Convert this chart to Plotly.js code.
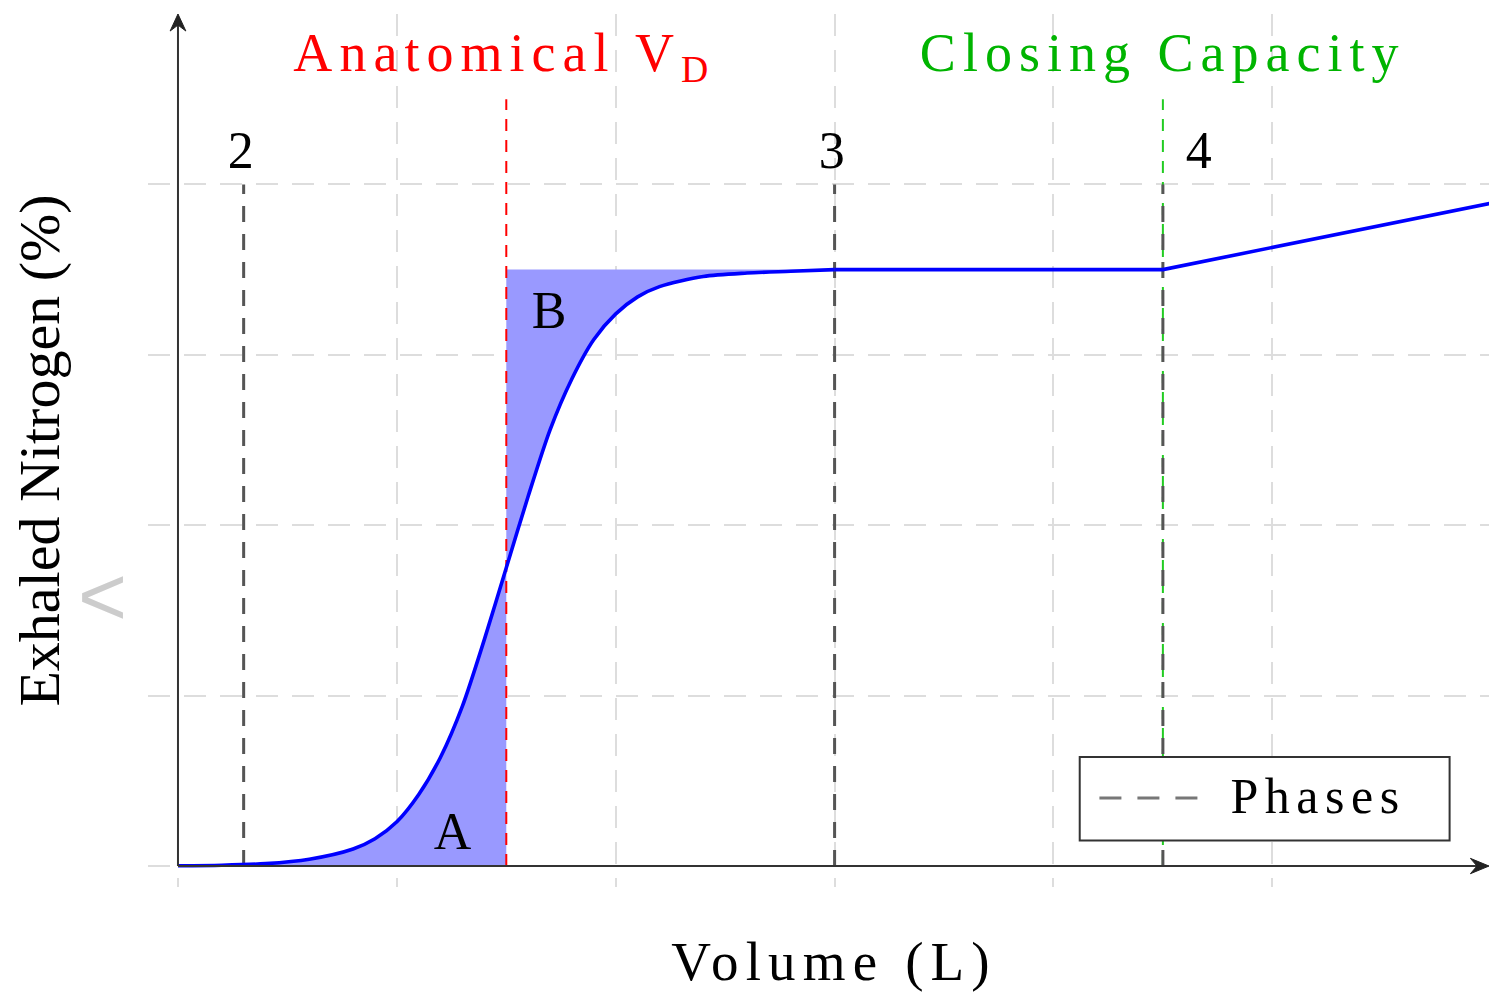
<!DOCTYPE html>
<html>
<head>
<meta charset="utf-8">
<script src="https://cdn.plot.ly/plotly-3.0.1.min.js"></script>
<style>
  html, body { margin: 0; padding: 0; background: #fff; }
  #chart { width: 1489px; height: 995px; }
  /* wide, airy serif lettering */
  #chart .annotation-text.spaced { letter-spacing: 0.13em; }
</style>
</head>
<body>
<div id="chart"></div>
<script>
// Single-breath nitrogen washout curve
const volume   = [0, 0.2, 0.4, 0.6, 0.8, 0.9, 1.0, 1.1, 1.2, 1.3, 1.4, 1.5, 1.6, 1.7, 1.8, 1.9, 2.0, 2.1, 2.2, 2.4, 2.6, 2.8, 3.0, 3.5, 4.0, 4.5, 6.0];
const nitrogen = [0.002, 0.005, 0.014, 0.04, 0.10, 0.16, 0.26, 0.42, 0.64, 0.94, 1.33, 1.75, 2.17, 2.56, 2.86, 3.09, 3.24, 3.34, 3.40, 3.46, 3.48, 3.49, 3.50, 3.50, 3.50, 3.50, 3.89];

const plateau = 3.5;          // alveolar plateau (phase 3 level)
const deadSpaceVolume = 1.5;  // anatomical dead space boundary
const closingVolume = 4.5;    // closing capacity boundary
const phaseX = [0.3, 3.0, 4.5];
const phaseLabels = ['2', '3', '4'];
const phaseTop = 4;
const markerTop = 4.5;

const serif = '"Liberation Serif", "Times New Roman", serif';
const xMax = 5.99, yMax = 5;

// the S-shaped washout part is smoothed; plateau and phase 4 stay straight
const sX = [], sY = [], pX = [], pY = [];
volume.forEach((v, i) => {
  if (v <= 3.0) { sX.push(v); sY.push(nitrogen[i]); }
  if (v >= 3.0) { pX.push(v); pY.push(nitrogen[i]); }
});

// area A: under the curve, left of the dead-space line
const aX = [], aY = [];
volume.forEach((v, i) => { if (v <= deadSpaceVolume) { aX.push(v); aY.push(nitrogen[i]); } });

// area B: between curve and plateau, right of the dead-space line
const bX = [], bY = [];
volume.forEach((v, i) => { if (v >= deadSpaceVolume && v <= 3.0) { bX.push(v); bY.push(nitrogen[i]); } });
bX.push(3.0, deadSpaceVolume, deadSpaceVolume);
bY.push(plateau, plateau, bY[0]);

// phase divider segments
const phX = [], phY = [];
phaseX.forEach(x => { phX.push(x, x, null); phY.push(0, phaseTop, null); });

const traces = [
  { x: aX, y: aY, type: 'scatter', mode: 'lines', fill: 'tozeroy',
    fillcolor: '#9999ff', line: { width: 0, shape: 'spline', smoothing: 0.8 }, hoverinfo: 'skip', showlegend: false },
  { x: bX, y: bY, type: 'scatter', mode: 'lines', fill: 'toself',
    fillcolor: '#9999ff', line: { width: 0 }, hoverinfo: 'skip', showlegend: false },
  { x: [deadSpaceVolume, deadSpaceVolume], y: [0, markerTop], type: 'scatter', mode: 'lines',
    line: { color: '#ff0000', width: 2, dash: '12px,9px' }, showlegend: false },
  { x: [closingVolume, closingVolume], y: [0, markerTop], type: 'scatter', mode: 'lines',
    line: { color: '#22cc22', width: 2, dash: '12px,9px' }, showlegend: false },
  { x: phX, y: phY, type: 'scatter', mode: 'lines', name: 'Phases',
    line: { color: '#555555', width: 3, dash: '16px,12px' }, showlegend: false },
  { x: sX, y: sY, type: 'scatter', mode: 'lines', name: 'N2 washout',
    line: { color: '#0000ff', width: 3.6, shape: 'spline', smoothing: 0.8 }, showlegend: false },
  { x: pX, y: pY, type: 'scatter', mode: 'lines', name: 'N2 plateau',
    line: { color: '#0000ff', width: 3.6 }, showlegend: false }
];

const annotations = [
  // region labels
  { x: 1.27, y: 0.2, text: 'A', showarrow: false, font: { family: serif, size: 52, color: '#000' } },
  { x: 1.71, y: 3.26, text: 'B', showarrow: false, font: { family: serif, size: 52, color: '#000' } },
  // boundary captions
  { x: 1.49, y: 4.75, text: 'Anatomical V<sub>D</sub>', showarrow: false,
    font: { family: serif, size: 54, color: '#ff0000' } },
  { x: 4.5, y: 4.77, text: 'Closing Capacity', showarrow: false,
    font: { family: serif, size: 54, color: '#00b400' } },
  // legend text
  { x: 4.89, y: 0.41, text: 'Phases', xanchor: 'left', showarrow: false,
    font: { family: serif, size: 50, color: '#000' } },
  // axis title along the volume axis
  { xref: 'paper', yref: 'paper', x: (834 - 148) / 1341, y: 0, yshift: -107, text: 'Volume (L)',
    showarrow: false, font: { family: serif, size: 55, color: '#000' } },
  // side chevron
  { xref: 'paper', yref: 'paper', x: -0.036, y: 0.33, xshift: -24, yshift: -46, text: '<', showarrow: false,
    font: { family: '"Liberation Sans", sans-serif', size: 84, color: '#cccccc' } }
];

phaseX.forEach((x, i) => {
  const last = i === phaseX.length - 1;
  annotations.push({ x: x, y: 4.2, text: phaseLabels[i], showarrow: false,
    xanchor: last ? 'left' : 'center', xshift: last ? 24 : 0,
    font: { family: serif, size: 52, color: '#000' } });
});

const shapes = [
  // axis lines with arrowheads
  { type: 'line', xref: 'x', yref: 'y', x0: 0, x1: xMax - 0.03, y0: 0, y1: 0, line: { color: '#333', width: 2 } },
  { type: 'line', xref: 'x', yref: 'y', x0: 0, x1: 0, y0: 0, y1: yMax - 0.05, line: { color: '#333', width: 2 } },
  { type: 'path', xref: 'x', yref: 'y',
    path: `M${xMax},0 L${xMax - 0.085},0.045 L${xMax - 0.055},0 L${xMax - 0.085},-0.045 Z`,
    fillcolor: '#222', line: { color: '#222', width: 1 } },
  { type: 'path', xref: 'x', yref: 'y',
    path: `M0,${yMax} L0.036,${yMax - 0.1} L0,${yMax - 0.065} L-0.036,${yMax - 0.1} Z`,
    fillcolor: '#222', line: { color: '#222', width: 1 } },
  // legend frame and dash sample
  { type: 'rect', xref: 'x', yref: 'y', x0: 4.12, x1: 5.81, y0: 0.15, y1: 0.64,
    fillcolor: '#ffffff', line: { color: '#333', width: 2 }, layer: 'above' },
  { type: 'line', xref: 'x', yref: 'y', x0: 4.21, x1: 4.69, y0: 0.40, y1: 0.40,
    line: { color: '#777', width: 3, dash: '22px,16px' }, layer: 'above' }
];

const layout = {
  width: 1489, height: 995,
  margin: { l: 148, r: 0, t: 14, b: 108 },
  paper_bgcolor: '#ffffff', plot_bgcolor: '#ffffff',
  showlegend: false,
  xaxis: {
    range: [-0.137, xMax], dtick: 1, tick0: 0,
    showgrid: true, gridcolor: '#dddddd', gridwidth: 2, griddash: '22px,14px',
    zeroline: false, showline: false, showticklabels: false, ticks: ''
  },
  yaxis: {
    range: [-0.123, yMax], dtick: 1, tick0: 0,
    showgrid: true, gridcolor: '#dddddd', gridwidth: 2, griddash: '22px,14px',
    zeroline: false, showline: false, showticklabels: false, ticks: '',
    title: { text: 'Exhaled Nitrogen (%)', standoff: 68, font: { family: serif, size: 58, color: '#000' } }
  },
  shapes: shapes,
  annotations: annotations
};

Plotly.newPlot('chart', traces, layout, { staticPlot: true, displayModeBar: false }).then(() => {
  // widen the lettering of the horizontal captions
  document.querySelectorAll('#chart .annotation-text').forEach(t => {
    if (t.textContent !== '<') t.classList.add('spaced');
  });
});
</script>
</body>
</html>
